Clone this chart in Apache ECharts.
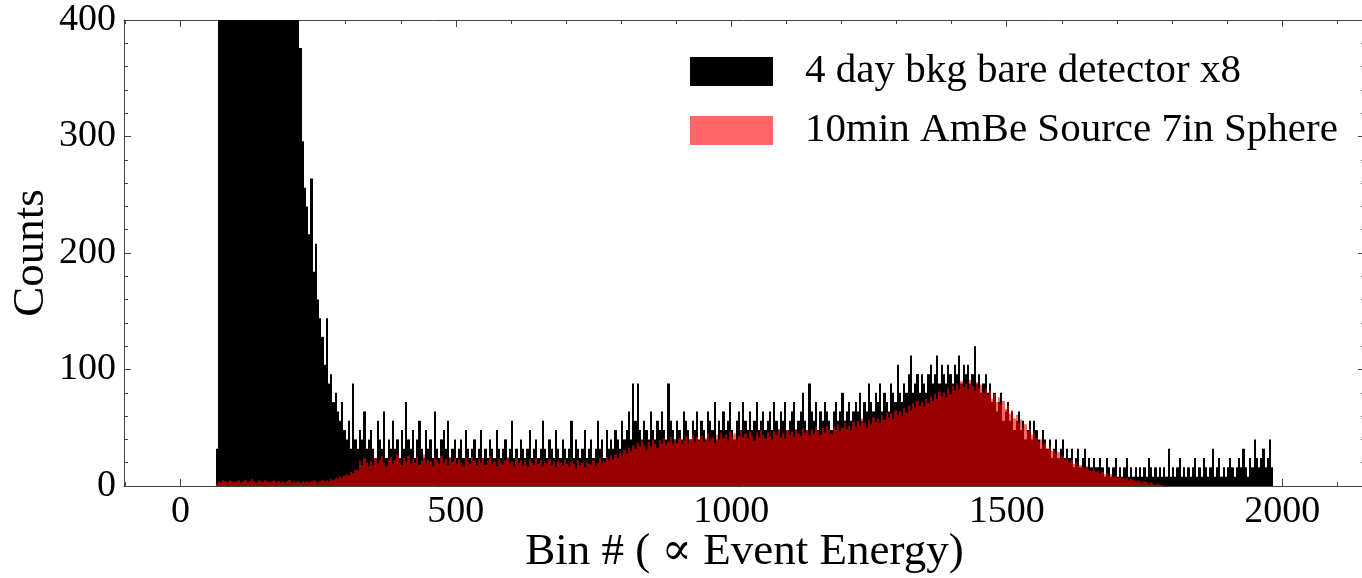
<!DOCTYPE html>
<html>
<head>
<meta charset="utf-8">
<script src="https://cdn.jsdelivr.net/npm/echarts@6/dist/echarts.min.js"></script>
<style>
	html, body {margin: 0; padding: 0; background: #fff;}
	#main {width: 1362px; height: 578px;}
</style>
</head>
<body>
<div id="main"></div>
<script>
// histogram bins: first edge and width (in bin #)
var binStart = 64;
var binWidth = 4;

// 4 day bkg bare detector x8 (values above 400 are off the top of the axis)
var bkgCounts = [
	32, 1850, 1920, 1980, 2010, 1990, 1960, 1900, 1880, 1830,
	1790, 1740, 1700, 1650, 1600, 1540, 1490, 1430, 1380, 1320,
	1260, 1200, 1140, 1080, 1020, 960, 900, 840, 790, 730,
	680, 630, 580, 540, 500, 470, 440, 410, 376, 296,
	256, 240, 216, 264, 184, 208, 160, 144, 128, 104,
	144, 88, 96, 72, 80, 64, 56, 72, 48, 40,
	56, 32, 88, 40, 32, 48, 40, 64, 32, 40,
	48, 32, 24, 56, 40, 32, 64, 24, 40, 32,
	56, 32, 40, 24, 48, 32, 72, 40, 32, 48,
	24, 40, 56, 32, 24, 48, 32, 40, 24, 64,
	32, 24, 40, 48, 32, 56, 24, 32, 40, 24,
	32, 40, 24, 48, 32, 24, 32, 40, 24, 32,
	48, 24, 32, 24, 40, 32, 24, 48, 32, 24,
	32, 40, 24, 32, 56, 24, 32, 24, 40, 32,
	24, 32, 48, 24, 32, 40, 24, 32, 56, 32,
	24, 40, 32, 24, 48, 32, 24, 40, 32, 24,
	32, 56, 24, 40, 32, 24, 32, 48, 24, 32,
	40, 24, 32, 56, 32, 40, 24, 48, 32, 40,
	32, 48, 40, 32, 56, 40, 48, 64, 40, 88,
	56, 88, 48, 40, 56, 48, 40, 64, 48, 40,
	56, 48, 64, 48, 40, 88, 56, 48, 40, 56,
	48, 40, 64, 56, 48, 40, 56, 48, 64, 40,
	56, 48, 40, 64, 56, 48, 72, 40, 56, 48,
	64, 48, 56, 72, 48, 40, 56, 64, 48, 72,
	56, 48, 64, 48, 56, 72, 48, 56, 64, 48,
	56, 64, 48, 72, 56, 48, 64, 56, 72, 48,
	56, 64, 72, 48, 56, 64, 80, 56, 48, 88,
	64, 56, 72, 48, 64, 56, 72, 64, 56, 48,
	64, 72, 56, 64, 80, 56, 64, 72, 56, 64,
	72, 64, 80, 56, 72, 64, 88, 72, 64, 80,
	72, 88, 64, 80, 72, 64, 88, 80, 72, 104,
	80, 72, 88, 80, 96, 112, 80, 88, 96, 80,
	96, 88, 80, 96, 104, 88, 96, 112, 88, 104,
	96, 88, 104, 96, 88, 104, 96, 112, 88, 104,
	96, 104, 88, 96, 120, 88, 96, 80, 88, 96,
	80, 88, 72, 80, 64, 72, 80, 56, 64, 72,
	56, 64, 48, 56, 64, 48, 56, 40, 48, 56,
	40, 56, 48, 40, 32, 48, 40, 32, 40, 24,
	32, 40, 24, 32, 40, 24, 32, 24, 32, 16,
	24, 32, 16, 24, 32, 16, 24, 16, 24, 16,
	16, 24, 16, 8, 24, 16, 8, 16, 24, 8,
	16, 8, 16, 24, 8, 16, 8, 16, 8, 16,
	8, 16, 8, 24, 16, 8, 16, 8, 16, 8,
	16, 8, 32, 8, 16, 8, 16, 24, 8, 16,
	8, 16, 8, 16, 24, 8, 16, 8, 24, 16,
	8, 16, 32, 8, 16, 24, 8, 16, 8, 16,
	24, 16, 8, 16, 24, 16, 32, 16, 8, 24,
	16, 40, 24, 16, 24, 32, 16, 24, 40, 16
];

// 10min AmBe Source 7in Sphere
var ambeCounts = [
	2, 4, 3, 5, 4, 3, 5, 4, 3, 4,
	5, 3, 4, 5, 3, 4, 6, 4, 3, 5,
	4, 3, 5, 4, 3, 4, 5, 3, 4, 3,
	4, 3, 4, 5, 3, 4, 3, 4, 3, 4,
	3, 4, 3, 4, 5, 4, 3, 4, 5, 4,
	5, 4, 6, 5, 7, 6, 8, 7, 9, 10,
	9, 12, 11, 14, 13, 22, 18, 24, 20, 17,
	21, 18, 24, 19, 22, 26, 20, 17, 23, 25,
	19, 22, 27, 20, 18, 24, 21, 26, 19, 23,
	20, 25, 18, 22, 27, 19, 23, 21, 17, 24,
	22, 19, 26, 20, 23, 18, 25, 21, 24, 19,
	23, 20, 17, 24, 21, 19, 25, 22, 18, 23,
	20, 24, 18, 22, 26, 19, 21, 17, 23, 20,
	18, 22, 25, 19, 21, 17, 24, 20, 22, 18,
	21, 17, 23, 20, 18, 24, 19, 22, 17, 21,
	19, 23, 18, 21, 16, 22, 20, 18, 23, 19,
	17, 21, 19, 15, 22, 18, 20, 16, 21, 19,
	18, 22, 17, 20, 24, 19, 21, 25, 22, 26,
	23, 27, 24, 29, 26, 31, 28, 33, 30, 35,
	32, 37, 34, 39, 35, 31, 38, 34, 40, 36,
	33, 39, 36, 41, 35, 38, 42, 36, 40, 37,
	41, 36, 39, 43, 37, 40, 44, 38, 42, 39,
	43, 38, 41, 45, 39, 42, 37, 44, 40, 46,
	41, 44, 39, 47, 42, 45, 40, 43, 48, 42,
	45, 41, 47, 43, 39, 46, 42, 48, 44, 41,
	46, 43, 40, 47, 44, 49, 42, 45, 41, 48,
	44, 47, 42, 49, 45, 43, 50, 46, 48, 44,
	49, 45, 51, 47, 44, 50, 46, 52, 48, 45,
	51, 48, 53, 47, 50, 54, 49, 52, 48, 55,
	51, 56, 52, 58, 54, 50, 57, 53, 59, 55,
	58, 54, 61, 57, 63, 59, 62, 58, 65, 61,
	64, 60, 67, 63, 69, 65, 71, 67, 73, 69,
	72, 68, 75, 71, 77, 73, 79, 75, 81, 77,
	80, 76, 84, 79, 86, 82, 88, 83, 90, 85,
	88, 83, 91, 86, 82, 89, 84, 87, 80, 84,
	78, 82, 75, 79, 72, 76, 70, 73, 66, 69,
	62, 65, 58, 61, 54, 57, 50, 53, 47, 49,
	44, 46, 41, 38, 40, 35, 37, 32, 34, 30,
	31, 27, 29, 25, 26, 23, 24, 21, 22, 19,
	20, 17, 18, 16, 15, 17, 14, 13, 15, 12,
	13, 11, 12, 10, 11, 9, 10, 8, 9, 7,
	8, 7, 6, 7, 5, 6, 5, 4, 5, 4,
	3, 4, 3, 2, 3, 2, 1, 2, 1, 1
];

var xTicks = [0, 500, 1000, 1500, 2000];
var xMinorTicks = [-100, 100, 200, 300, 400, 600, 700, 800, 900, 1100, 1200, 1300, 1400, 1600, 1700, 1800, 1900, 2100];
var seriesNames = ['4 day bkg bare detector x8', '10min AmBe Source 7in Sphere'];

var fontFamily = '"Liberation Serif", "DejaVu Serif", serif';
var axisColor = '#444';

function toBins(counts){
	var out = new Array();
	for (var i = 0; i < counts.length; i++){
		var x0 = binStart + i * binWidth;
		out.push([x0, x0 + binWidth, counts[i]]);
	}
	return out;
}

// one rect per bin, edges snapped to whole pixels so neighbours leave no seams
function renderBin(params, api){
	var p0 = api.coord([api.value(0), 0]);
	var p1 = api.coord([api.value(1), api.value(2)]);
	var xa = Math.round(p0[0]), xb = Math.round(p1[0]);
	var shape = echarts.graphic.clipRectByRect({
		x: xa, y: p1[1], width: xb - xa, height: p0[1] - p1[1]
	}, {
		x: params.coordSys.x, y: params.coordSys.y,
		width: params.coordSys.width, height: params.coordSys.height
	});
	return shape && {type: 'rect', shape: shape, style: {fill: api.visual('color')}};
}

function xAxisOf(pos, ticks, len, withLabels){
	return {
		type: 'value',
		position: pos,
		min: -102.4,
		max: 2150.4,
		axisLine: {show: withLabels !== null, onZero: false, lineStyle: {color: axisColor, width: 1}},
		splitLine: {show: false},
		axisTick: {show: true, inside: true, length: len, customValues: ticks, lineStyle: {color: axisColor}},
		axisLabel: withLabels ? {
			show: true, customValues: ticks, margin: 7,
			formatter: function(v){ return String(v); },
			color: '#000', fontSize: 38, fontFamily: fontFamily
		} : {show: false},
		name: withLabels ? 'Bin # ( \u221d Event Energy)' : '',
		nameLocation: 'middle',
		nameGap: 44,
		nameMoveOverlap: false,
		nameTextStyle: {color: '#000', fontSize: 45, fontFamily: fontFamily}
	};
}

function yAxisOf(pos, withLabels){
	return {
		type: 'value', min: 0, max: 400, interval: 100, position: pos,
		axisLine: {show: true, onZero: false, lineStyle: {color: axisColor, width: 1}},
		splitLine: {show: false},
		axisTick: {inside: true, length: 7, lineStyle: {color: axisColor}},
		minorTick: {show: true, splitNumber: 5, length: 4, lineStyle: {color: axisColor}},
		axisLabel: withLabels ? {color: '#000', fontSize: 38, fontFamily: fontFamily, margin: 8} : {show: false},
		name: withLabels ? 'Counts' : '',
		nameLocation: 'middle',
		nameRotate: 90,
		nameGap: 70,
		nameMoveOverlap: false,
		nameTextStyle: {color: '#000', fontSize: 45, fontFamily: fontFamily}
	};
}

var chart = echarts.init(document.getElementById('main'));

var option = {
	animation: false,
	backgroundColor: '#fff',
	// the right spine sits just past the picture's edge, as in the original
	grid: {left: 124, top: 20, width: 1241, height: 466, outerBoundsMode: 'none', containLabel: false},
	legend: {
		orient: 'vertical',
		left: 690,
		top: 51,
		padding: 0,
		itemWidth: 83,
		itemHeight: 29,
		itemGap: 18,
		textStyle: {color: '#000', fontSize: 41, fontFamily: fontFamily, padding: [0, 0, 0, 27]},
		data: [
			{name: seriesNames[0], icon: 'rect'},
			{name: seriesNames[1], icon: 'rect'}
		]
	},
	xAxis: [
		xAxisOf('bottom', xTicks, 7, true),
		xAxisOf('top', xTicks, 7, false),
		xAxisOf('bottom', xMinorTicks, 4, null),
		xAxisOf('top', xMinorTicks, 4, null)
	],
	yAxis: [
		yAxisOf('left', true),
		yAxisOf('right', false)
	],
	series: [
		{
			name: seriesNames[0],
			type: 'custom',
			renderItem: renderBin,
			itemStyle: {color: '#000'},
			encode: {x: [0, 1], y: 2},
			data: toBins(bkgCounts)
		},
		{
			name: seriesNames[1],
			type: 'custom',
			renderItem: renderBin,
			itemStyle: {color: 'rgba(255, 0, 0, 0.6)'},
			encode: {x: [0, 1], y: 2},
			data: toBins(ambeCounts)
		}
	]
};

chart.setOption(option);
</script>
</body>
</html>
